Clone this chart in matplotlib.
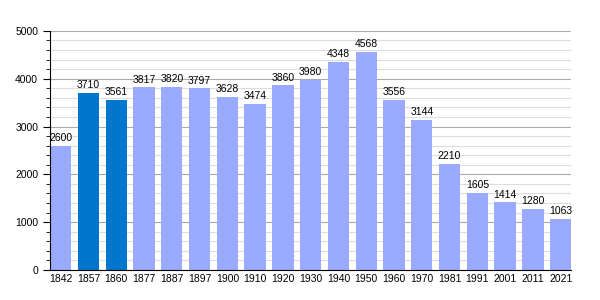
import matplotlib
matplotlib.use('Agg')
import matplotlib.pyplot as plt
from matplotlib.ticker import MultipleLocator

years = ['1842', '1857', '1860', '1877', '1887', '1897', '1900', '1910', '1920', '1930',
         '1940', '1950', '1960', '1970', '1981', '1991', '2001', '2011', '2021']
population = [2600, 3710, 3561, 3817, 3820, 3797, 3628, 3474, 3860, 3980,
              4348, 4568, 3556, 3144, 2210, 1605, 1414, 1280, 1063]
highlight = ['1857', '1860']

plt.rcParams['font.family'] = ['Liberation Sans', 'DejaVu Sans']

fig = plt.figure(figsize=(6, 3), dpi=100)
ax = fig.add_axes([0.0833, 0.1, 0.869, 0.797])

w = 0.77
colors = ['#0077cc' if y in highlight else '#99aaff' for y in years]
x = range(len(years))
ax.bar(x, population, width=w, color=colors, zorder=2)
for i, v in enumerate(population):
    ax.text(i, v + 60, str(v), ha='center', va='bottom', fontsize=7.5, zorder=3)

ax.set_xlim(-w / 2, len(years) - 1 + w / 2)
ax.set_ylim(0, 5000)
ax.set_xticks(list(x))
ax.set_xticklabels(years)
ax.yaxis.set_major_locator(MultipleLocator(1000))
ax.yaxis.set_minor_locator(MultipleLocator(200))
ax.grid(axis='y', which='major', color='#aaaaaa', linewidth=0.8, zorder=0)
ax.grid(axis='y', which='minor', color='#dddddd', linewidth=0.8, zorder=0)
ax.tick_params(axis='x', length=0, labelsize=7.5, pad=3)
ax.tick_params(axis='y', which='major', length=5, labelsize=7.5)
ax.tick_params(axis='y', which='minor', length=3)
for s in ['top', 'right']:
    ax.spines[s].set_visible(False)

fig.savefig('out.png')
